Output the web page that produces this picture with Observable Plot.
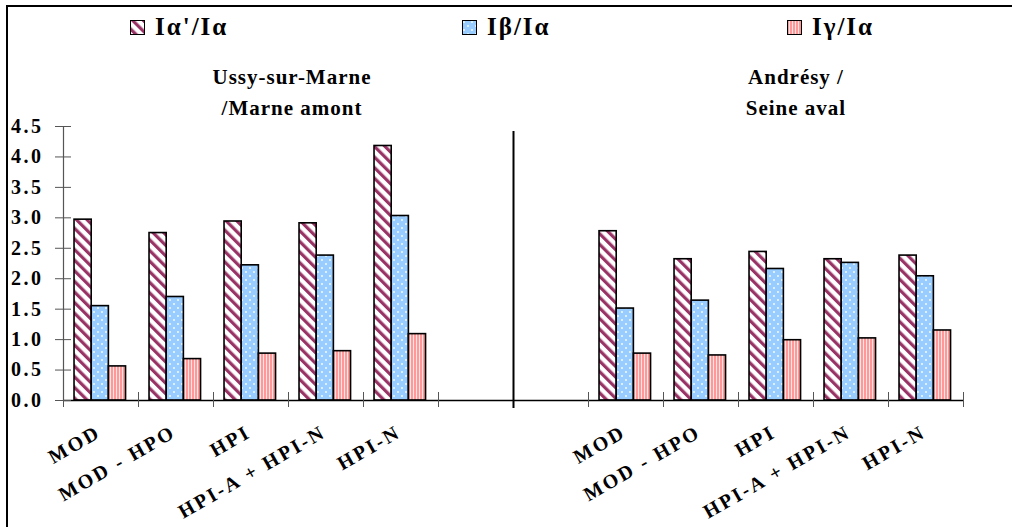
<!DOCTYPE html>
<html><head><meta charset="utf-8">
<script src="https://cdn.jsdelivr.net/npm/d3@7"></script>
<script src="https://cdn.jsdelivr.net/npm/@observablehq/plot@0.6"></script>
<style>
body{margin:0;background:#fff;font-family:"Liberation Serif","Times New Roman",Times,serif;font-weight:bold;color:#000;}
#wrap{position:relative;width:1012px;height:527px;overflow:hidden;background:#fff;}
#frame{position:absolute;left:6px;top:5px;width:1100px;height:600px;border-left:2px solid #000;border-top:2px solid #000;}
.leg{position:absolute;top:12px;height:30px;font-size:25px;line-height:30px;letter-spacing:2px;display:flex;align-items:center;white-space:nowrap;}
.leg svg{margin-right:10px;display:block}
.sub{position:absolute;width:300px;font-size:21px;text-align:center;line-height:31px;letter-spacing:1px;}
#chart{position:absolute;left:0;top:50px;}
#chart svg text{letter-spacing:2.5px}
</style></head><body>
<div id="wrap">
<svg width="0" height="0" style="position:absolute">
  <defs>
    <pattern id="pA" patternUnits="userSpaceOnUse" width="7.5" height="7.5" patternTransform="rotate(-45)">
      <rect width="7.5" height="7.5" fill="#fff"/><rect width="3.2" height="7.5" fill="#993366"/>
    </pattern>
    <pattern id="pB" patternUnits="userSpaceOnUse" width="8" height="8">
      <rect width="8" height="8" fill="#99ccff"/><circle cx="2" cy="2" r="0.9" fill="#fff"/><circle cx="6" cy="6" r="0.9" fill="#fff"/>
    </pattern>
    <pattern id="pG" patternUnits="userSpaceOnUse" width="3" height="3">
      <rect width="3" height="3" fill="#ffe4e4"/><rect width="2" height="3" fill="#ff9999"/>
    </pattern>
  </defs>
</svg>
<div id="frame"></div>
<div id="legend"></div>
<div id="subs"></div>
<div id="chart"></div>
</div>
<script>
// ---- data ----
const categories = ["MOD", "MOD - HPO", "HPI", "HPI-A + HPI-N", "HPI-N"];
const siteTitles = [["Ussy-sur-Marne", "/Marne amont"], ["Andrésy /", "Seine aval"]];
const seriesNames = ["Iα'/Iα", "Iβ/Iα", "Iγ/Iα"];
const ussyAlphaPrime = [2.97, 2.75, 2.94, 2.91, 4.18];
const ussyBeta = [1.55, 1.70, 2.22, 2.38, 3.03];
const ussyGamma = [0.56, 0.68, 0.77, 0.81, 1.09];
const andresyAlphaPrime = [2.78, 2.32, 2.44, 2.32, 2.38];
const andresyBeta = [1.51, 1.64, 2.16, 2.26, 2.04];
const andresyGamma = [0.77, 0.74, 0.99, 1.02, 1.15];
const yTicks = [0, 0.5, 1, 1.5, 2, 2.5, 3, 3.5, 4, 4.5];

// ---- derived layout from data ----
const patterns = ["url(#pA)", "url(#pB)", "url(#pG)"];
const siteSeries = [
  [ussyAlphaPrime, ussyBeta, ussyGamma],
  [andresyAlphaPrime, andresyBeta, andresyGamma]
];
const groupStride = categories.length + 2;           // 5 categories + 2 empty slots
const nSlots = categories.length * 2 + 2;            // 12 slots
const separator = categories.length + 1;             // boundary between the two sites
const barW = 0.229, groupOffset = 0.147;

const rows = [];
siteSeries.forEach((ser, s) => ser.forEach((vals, k) => vals.forEach((v, i) => {
  const slot = s * groupStride + i;
  rows.push({site: s, k, cat: categories[i], value: v,
             x1: slot + groupOffset + k * barW, x2: slot + groupOffset + (k + 1) * barW});
})));
const labelRows = [];
siteSeries.forEach((ser, s) => categories.forEach((c, i) => labelRows.push({name: c, cx: s * groupStride + i + 0.5})));

// ---- legend ----
const legend = document.getElementById("legend");
const legLeft = [130, 462, 787];
seriesNames.forEach((n, k) => {
  const d = document.createElement("div");
  d.className = "leg";
  d.style.left = legLeft[k] + "px";
  d.innerHTML = `<svg width="15" height="15"><rect x="0.5" y="0.5" width="14" height="14" fill="${patterns[k]}" stroke="#000" stroke-width="1"/></svg><span>${n}</span>`;
  legend.appendChild(d);
});

// ---- site subtitles ----
const subs = document.getElementById("subs");
const subCenters = [292, 796];
siteTitles.forEach((lines, s) => {
  const d = document.createElement("div");
  d.className = "sub";
  d.style.left = (subCenters[s] - 150) + "px";
  d.style.top = "62px";
  d.innerHTML = lines.join("<br>");
  subs.appendChild(d);
});

// ---- chart ----
const chart = Plot.plot({
  width: 1012, height: 477,
  marginLeft: 63, marginRight: 49, marginTop: 76, marginBottom: 127,
  style: {fontFamily: "'Liberation Serif', 'Times New Roman', Times, serif", fontWeight: "bold", fontSize: "20px", color: "#000", background: "transparent", overflow: "visible"},
  x: {domain: [0, nSlots]},
  y: {domain: [0, 4.5]},
  marks: [
    Plot.ruleX([0], {stroke: "#555", strokeWidth: 1.2}),
    ...patterns.map((p, k) => Plot.rectY(rows.filter(r => r.k === k), {x1: "x1", x2: "x2", y: "value", fill: p, stroke: "#000", strokeWidth: 1.6})),
    Plot.ruleY([0], {stroke: "#000", strokeWidth: 1.3}),
    Plot.axisY(yTicks, {tickSize: 16, dx: 8, fill: "none", stroke: "#555", label: null}),
    Plot.axisY(yTicks, {tickSize: 0, tickPadding: 20, tickFormat: d => d.toFixed(1), label: null}),
    Plot.axisX(d3.range(nSlots + 1), {tickSize: 15, dy: -8, fill: "none", stroke: "#555", label: null}),
    Plot.ruleX([separator], {insetTop: 5, insetBottom: -8, strokeWidth: 2, stroke: "#000"}),
    Plot.text(labelRows, {x: "cx", text: "name", frameAnchor: "bottom", rotate: -30, textAnchor: "end", lineAnchor: "middle", dy: 30, dx: -2, fill: "#000"})
  ]
});
document.getElementById("chart").appendChild(chart);
</script>
</body></html>
